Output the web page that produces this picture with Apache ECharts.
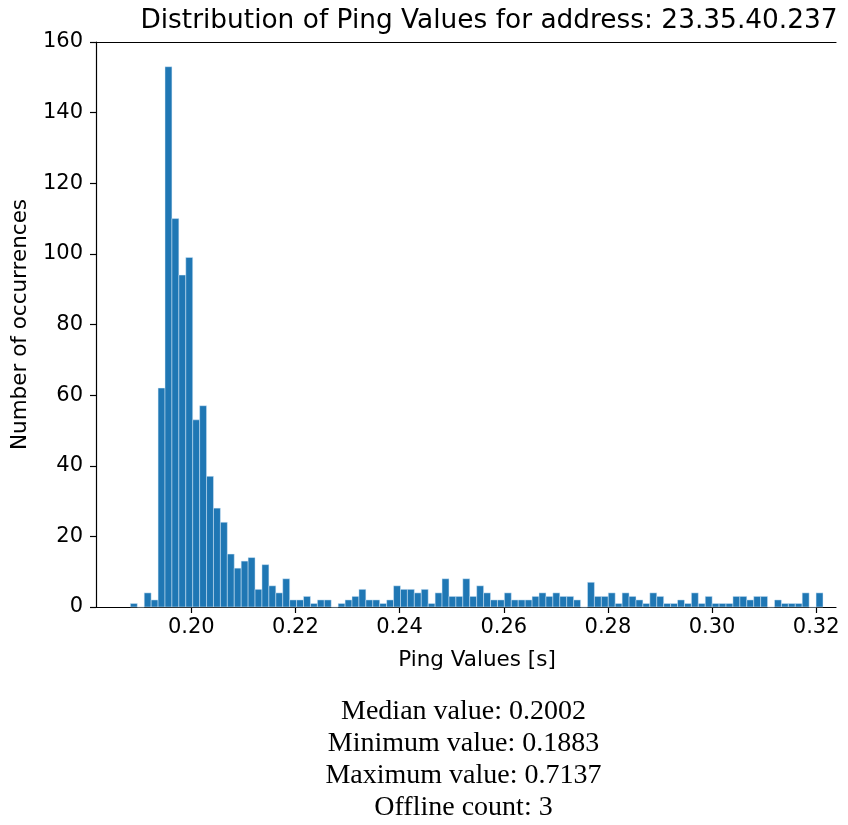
<!DOCTYPE html>
<html>
<head>
<meta charset="utf-8">
<script src="https://cdn.jsdelivr.net/npm/echarts@6/dist/echarts.min.js"></script>
<style>
html,body{margin:0;padding:0;background:#fff;}
#chart{width:848px;height:825px;}
</style>
</head>
<body>
<div id="chart"></div>
<script>
const titleText = 'Distribution of Ping Values for address: 23.35.40.237';
const xName = 'Ping Values [s]';
const yName = 'Number of occurrences';
const binStart = 0.1883;
const binWidth = 0.00133;
const counts = [1,0,4,2,62,153,110,94,99,53,
  57,37,28,24,15,11,13,14,5,12,
  6,4,8,2,2,3,1,2,2,0,
  1,2,3,5,2,2,1,2,6,5,
  5,4,5,1,4,8,3,3,8,3,
  6,4,2,2,4,2,2,2,3,4,
  3,4,3,3,2,0,7,3,3,4,
  1,4,3,2,1,4,3,1,1,2,
  1,4,1,3,1,1,1,3,3,2,
  3,3,0,2,1,1,1,4,0,4];
const xTicks = [0.20,0.22,0.24,0.26,0.28,0.30,0.32];
const yTicks = [0,20,40,60,80,100,120,140,160];
const statLines = ['Median value: 0.2002','Minimum value: 0.1883','Maximum value: 0.7137','Offline count: 3'];

const data = counts.map((c,i)=>[binStart+i*binWidth, binStart+(i+1)*binWidth, c]);

const chart = echarts.init(document.getElementById('chart'), null, {renderer:'canvas'});
const font = 'DejaVu Sans';
chart.setOption({
  animation:false,
  backgroundColor:'#fff',
  title:{
    text:titleText, left:484, top:3, textAlign:'center',
    textStyle:{fontFamily:font, fontSize:26.4, fontWeight:'normal', color:'#000'}
  },
  grid:{left:96, right:12, top:42, bottom:218, containLabel:false},
  xAxis:[{
    type:'value', min:0.1817, max:0.3238,
    axisLine:{show:true, lineStyle:{color:'#000', width:1.2}},
    axisTick:{show:true, length:6, customValues:xTicks, lineStyle:{color:'#000', width:1.2}},
    axisLabel:{customValues:xTicks, formatter:v=>v.toFixed(2), fontFamily:font, fontSize:21, color:'#000', margin:10},
    splitLine:{show:false}
  },{
    type:'value', position:'top', min:0.1817, max:0.3238,
    axisLine:{show:true, lineStyle:{color:'#000', width:1.2}},
    axisTick:{show:false}, axisLabel:{show:false}, splitLine:{show:false}
  }],
  yAxis:{
    type:'value', min:0, max:160, interval:20,
    name:yName, nameLocation:'middle', nameRotate:90, nameGap:65,
    nameTextStyle:{fontFamily:font, fontSize:21.5, color:'#000'},
    axisLine:{show:true, lineStyle:{color:'#000', width:1.2}},
    axisTick:{show:true, length:6, lineStyle:{color:'#000', width:1.2}},
    axisLabel:{fontFamily:font, fontSize:21, color:'#000', margin:13},
    splitLine:{show:false}
  },
  graphic:[
    {type:'text', x:477, y:660, style:{text:xName, font:'21.5px "DejaVu Sans"', fill:'#000', align:'center', verticalAlign:'middle'}},
    ...statLines.map((t,i)=>({type:'text', x:463.5, y:712+i*32, style:{text:t, font:'28px "Liberation Serif"', fill:'#000', align:'center', verticalAlign:'middle'}}))
  ],
  series:[{
    type:'custom',
    xAxisIndex:0,
    encode:{x:[0,1], y:2},
    data:data,
    renderItem:(params, api)=>{
      const p0 = api.coord([api.value(0), api.value(2)]);
      const p1 = api.coord([api.value(1), 0]);
      return {type:'rect', shape:{x:p0[0], y:p0[1], width:p1[0]-p0[0], height:p1[1]-p0[1]},
        style:{fill:'#1f77b4', stroke:'rgba(220,235,250,0.8)', lineWidth:0.6}};
    }
  }]
});
</script>
</body>
</html>
